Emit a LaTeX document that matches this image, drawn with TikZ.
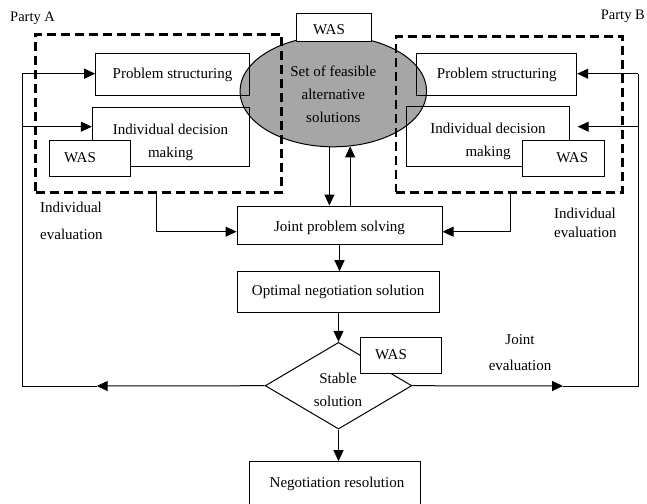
\documentclass[tikz,border=0pt]{standalone}
\usepackage{fontspec}
\setmainfont{Liberation Serif}
\usetikzlibrary{shapes.geometric,arrows.meta}
\begin{document}
\begin{tikzpicture}[x=1pt,y=-1pt,
  box/.style={draw,line width=1pt,inner sep=0pt},
  wasbox/.style={box,fill=white},
  txt/.style={font=\fontsize{15}{18}\selectfont,inner sep=0pt},
  ln/.style={line width=1pt},
  arr/.style={line width=1pt,-{Triangle[length=11pt,width=10pt]}},
  dashbox/.style={draw,line width=2.6pt,dash pattern=on 9pt off 5pt,inner sep=0pt}]
\useasboundingbox (0,0) rectangle (647,503);
\clip (0,0) rectangle (647,503);

% central ellipse
\node[ellipse,draw,line width=1pt,fill={rgb,255:red,166;green,166;blue,166},
      minimum width=186.6pt,minimum height=111pt,inner sep=0pt] (ell) at (333.3,91.3) {};
\node[txt,align=center,font=\fontsize{15}{22.8}\selectfont] (elltext) at (333.3,94.5)
  {Set of feasible\\alternative\\solutions};

% party A boxes
\node[box,minimum width=153.6pt,minimum height=42.4pt,txt] (psA) at (172.5,74.5) {Problem structuring};
\node[box,minimum width=157pt,minimum height=58.3pt] (idA) at (170.8,136.85) {};
\node[txt,align=center,font=\fontsize{15}{23.3}\selectfont] (idAtext) at (170.5,142.3) {Individual decision\\making};
\node[wasbox,minimum width=80.7pt,minimum height=36pt] (wasA) at (89.65,158.7) {};
\node[txt] (wasAtext) at (80,157.5) {WAS};

% party B boxes
\node[box,minimum width=160pt,minimum height=42.4pt,txt] (psB) at (496.7,74.5) {Problem structuring};
\node[box,minimum width=163pt,minimum height=59.3pt] (idB) at (487.5,136.35) {};
\node[txt,align=center,font=\fontsize{15}{22.7}\selectfont] (idBtext) at (488,141.5) {Individual decision\\making};
\node[wasbox,minimum width=81.3pt,minimum height=36.7pt] (wasB) at (563.35,158.35) {};
\node[txt] (wasBtext) at (572.3,157.7) {WAS};

% top WAS box
\node[wasbox,minimum width=75pt,minimum height=27.5pt] (wasT) at (334.2,27.3) {};
\node[txt] (wasTtext) at (329,29.5) {WAS};

% dashed party boxes
\node[dashbox,minimum width=246pt,minimum height=158pt] (dashA) at (158.7,113.3) {};
\node[dashbox,minimum width=226.7pt,minimum height=155.6pt] (dashB) at (509.35,114.5) {};

% party labels
\node[txt,font=\fontsize{14.5}{17}\selectfont,anchor=base west] (partyA) at (10,21.7) {Party A};
\node[txt,font=\fontsize{14.5}{17}\selectfont,anchor=base east] (partyB) at (645,19.5) {Party B};

% lower boxes
\node[box,minimum width=205pt,minimum height=38pt] (joint) at (339.5,225) {};
\node[txt] (jointtext) at (339.5,228) {Joint problem solving};
\node[box,minimum width=202.3pt,minimum height=41pt,txt] (opt) at (338.2,292.2) {Optimal negotiation solution};
\node[diamond,draw,line width=1pt,inner sep=0pt,minimum width=146.7pt,minimum height=86.7pt] (stab) at (338.5,385.7) {};
\node[txt,align=center,font=\fontsize{15}{22.7}\selectfont] (stabtext) at (338,390) {Stable\\solution};
\node[wasbox,minimum width=81pt,minimum height=36pt] (wasD) at (401.2,355.3) {};
\node[txt] (wasDtext) at (391,355) {WAS};
\node[box,minimum width=171pt,minimum height=49pt] (nr) at (334.5,486.2) {};
\node[txt] (nrtext) at (337,484) {Negotiation resolution};

% side labels
\node[txt,align=left,anchor=west,font=\fontsize{15}{26.7}\selectfont] (ieA) at (40,221) {Individual\\evaluation};
\node[txt,align=left,anchor=west,font=\fontsize{15}{18.4}\selectfont] (ieB) at (554,222.8) {Individual\\evaluation};
\node[txt,align=center,font=\fontsize{15}{25.7}\selectfont] (je) at (520,352.5) {Joint\\evaluation};

% coordinates for connectors
\coordinate (ltop) at (22,73.7);
\coordinate (lmid) at (22,126.7);
\coordinate (lbot) at (22,386);
\coordinate (ltip) at (96.7,386);
\coordinate (rtop) at (638.3,73.7);
\coordinate (rmid) at (638.3,126.7);
\coordinate (rmidtip) at (577.7,126.7);
\coordinate (rbot) at (638.3,386);
\coordinate (rtip) at (563,386);
\coordinate (eA) at (156,231.7);
\coordinate (eB) at (510,231.7);

% feedback loops
\draw[arr] (stab.west) -- (ltip);
\draw[ln] (ltip) -- (lbot) -- (ltop);
\draw[arr] (ltop) -- (ltop -| psA.west);
\draw[arr] (lmid) -- (lmid -| idA.west);
\draw[arr] (stab.east) -- (rtip);
\draw[ln] (rtip) -- (rbot) -- (rtop);
\draw[arr] (rtop) -- (rtop -| psB.east);
\draw[arr] (rmid) -- (rmidtip);

% ellipse <-> joint
\draw[arr] (ell.-94) -- (ell.-94 |- joint.north);
\draw[arr] (ell.-73 |- joint.north) -- (ell.-73);

% individual evaluation
\draw[arr] (dashA.south -| eA) -- (eA) -- (eA -| joint.west);
\draw[arr] (dashB.south -| eB) -- (eB) -- (eB -| joint.east);

% main flow
\draw[arr] (joint.south) -- (joint.south |- opt.north);
\draw[arr] (opt.south -| stab.north) -- (stab.north);
\draw[arr] (stab.south) -- (stab.south |- nr.north);
\end{tikzpicture}
\end{document}
